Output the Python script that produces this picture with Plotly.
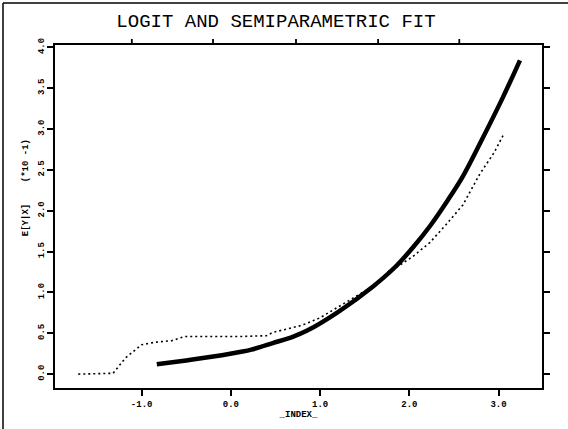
import plotly.graph_objects as go

# ---- data ----
logit_x = [-0.83, -0.48, -0.10, 0.10, 0.23, 0.47, 0.70, 0.85, 1.20, 1.59, 1.85, 2.04, 2.23, 2.42, 2.60, 2.80, 3.05, 3.24]
logit_y = [0.12, 0.17, 0.23, 0.27, 0.30, 0.38, 0.46, 0.53, 0.76, 1.07, 1.32, 1.55, 1.81, 2.11, 2.42, 2.84, 3.39, 3.84]

semi_x = [-1.71, -1.32, -1.18, -1.00, -0.85, -0.66, -0.52, -0.20, 0.10, 0.40, 0.47, 0.77, 0.85, 1.00, 1.20, 1.40, 1.60, 1.78, 1.86, 2.04, 2.23, 2.42, 2.60, 2.79, 2.95, 3.05]
semi_y = [0.00, 0.01, 0.20, 0.36, 0.39, 0.41, 0.46, 0.46, 0.46, 0.47, 0.51, 0.59, 0.62, 0.69, 0.82, 0.95, 1.08, 1.27, 1.31, 1.44, 1.61, 1.84, 2.07, 2.45, 2.71, 2.92]

x_ticks = [-1.0, 0.0, 1.0, 2.0, 3.0]
x_ticklabels = ["-1.0", "0.0", "1.0", "2.0", "3.0"]
y_ticks = [0.0, 0.5, 1.0, 1.5, 2.0, 2.5, 3.0, 3.5, 4.0]
y_ticklabels = ["0.0", "0.5", "1.0", "1.5", "2.0", "2.5", "3.0", "3.5", "4.0"]
top_ticks = [-1.11, -0.20, 0.73, 1.65, 2.56]   # top-frame tick positions (x units)

title_text = "LOGIT AND SEMIPARAMETRIC FIT"
x_title = "_INDEX_"
NB = "\u00a0"
y_title = "E[Y|X]" + NB * 4 + "(*10" + NB + "-1)"

MONO = "Courier New, Liberation Mono, monospace"
XR = [-1.971, 3.487]
YR = [-0.17, 4.028]

PW, PH = 487, 342.5   # plot area size in px

fig = go.Figure()
fig.add_trace(go.Scatter(x=semi_x, y=semi_y, mode="lines",
                         line=dict(color="black", width=1.6, dash="2px,3px"),
                         showlegend=False, hoverinfo="skip"))
fig.add_trace(go.Scatter(x=logit_x, y=logit_y, mode="lines", line_shape="spline",
                         line=dict(color="black", width=4.5),
                         showlegend=False, hoverinfo="skip"))

axis_common = dict(showgrid=False, zeroline=False, showline=True, linecolor="black",
                   linewidth=1.8, ticks="outside", ticklen=6, tickwidth=1.8, tickcolor="black")

shapes = [dict(type="line", xref="x", yref="paper", x0=t, x1=t, y0=1, y1=1 + 6 / PH,
               line=dict(color="black", width=1.8)) for t in top_ticks]
shapes += [
    dict(type="line", xref="paper", yref="paper", x0=-52 / PW, x1=-52 / PW, y0=1 + 42 / PH, y1=-41 / PH,
         line=dict(color="black", width=1.5)),
    dict(type="line", xref="paper", yref="paper", x0=-52 / PW, x1=1 + 26 / PW, y0=1 + 42 / PH, y1=1 + 42 / PH,
         line=dict(color="black", width=1.5)),
]

fig.update_layout(
    width=568, height=429,
    margin=dict(l=55, r=26, t=45, b=41),
    paper_bgcolor="white", plot_bgcolor="white",
    title=dict(text=title_text, x=276 / 568, xanchor="center", y=1 - 20 / 429, yanchor="middle",
               font=dict(family=MONO, size=19, color="black")),
    xaxis=dict(range=XR, tickvals=x_ticks, ticktext=x_ticklabels, mirror=True,
               tickfont=dict(family=MONO, size=9, color="black", weight="bold"),
               title=dict(text=x_title, font=dict(family=MONO, size=9, color="black", weight="bold"), standoff=2),
               **axis_common),
    yaxis=dict(range=YR, tickvals=y_ticks, ticktext=y_ticklabels, mirror="ticks", tickangle=-90,
               tickfont=dict(family=MONO, size=9, color="black", weight="bold"),
               **axis_common),
    annotations=[dict(text=y_title, xref="paper", yref="paper", x=-(55 - 26) / PW, xanchor="center",
                      y=(387.5 - 188) / PH, yanchor="middle", textangle=-90, showarrow=False,
                      font=dict(family=MONO, size=9, color="black", weight="bold"))],
    shapes=shapes,
)

fig.write_html("out.html", config={"displayModeBar": False},
               post_script="document.body.style.margin='0';")
